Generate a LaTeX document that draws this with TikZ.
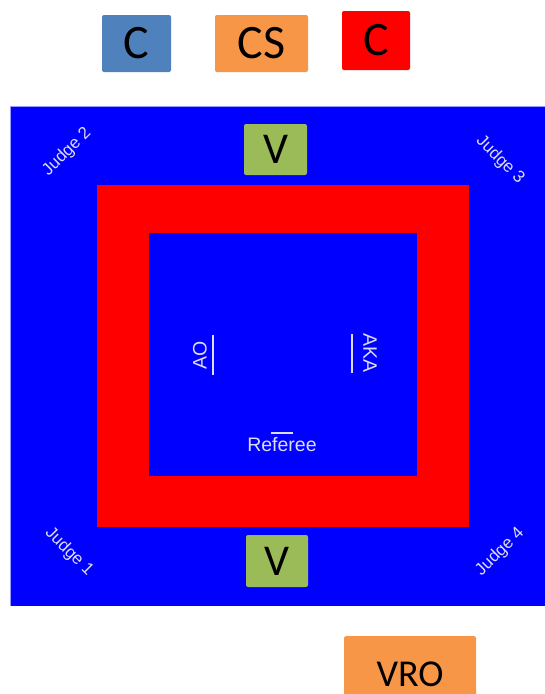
\documentclass[tikz,border=0pt]{standalone}
\usepackage{fontspec}
\setmainfont{Liberation Sans}
\newfontfamily\boxfont{Carlito}
\definecolor{pblue}{HTML}{4F81BD}
\definecolor{porange}{HTML}{F79646}
\definecolor{pgreen}{HTML}{9BBB59}
\definecolor{mat}{HTML}{0000FF}
\definecolor{lbl}{HTML}{DCDCF6}
\newcommand{\lowtext}[2]{\raisebox{-#1}{#2}}
\tikzset{
  tagbox/.style={rounded corners=2pt, inner sep=0pt, text=black},
  big/.style={font=\boxfont\fontsize{48}{48}\selectfont},
  mid/.style={font=\boxfont\fontsize{44}{44}\selectfont},
  vro/.style={font=\boxfont\fontsize{38}{38}\selectfont},
  small/.style={text=lbl, font=\fontsize{17}{17}\selectfont, inner sep=0pt},
  smallb/.style={text=lbl, font=\fontsize{19.5}{19.5}\selectfont, inner sep=0pt},
  mark line/.style={draw=lbl, line width=1.6pt}
}
\begin{document}
\begin{tikzpicture}[x=1pt,y=-1pt]
\useasboundingbox (0,0) rectangle (545,694);
\fill[white] (0,0) rectangle (545,694);
% mat
\fill[mat] (10,106) rectangle (545,606);
\draw[mat!40!white, line width=0.6pt] (10,606) -- (10,106) -- (545,106);
\fill[red] (97,185) rectangle (469,527);
\fill[mat] (149,233) rectangle (417,476);
% top tags
\node[tagbox, big, fill=pblue, minimum width=69pt, minimum height=57pt] (c1) at (136.5,43.5) {\lowtext{6pt}{C}};
\node[tagbox, big, fill=porange, minimum width=93pt, minimum height=57pt] (cs) at (261.5,43.5) {\lowtext{6pt}{CS}};
\node[tagbox, big, fill=red, minimum width=68pt, minimum height=59pt] (c2) at (376,40.5) {\lowtext{6pt}{C}};
% V boxes
\node[tagbox, mid, fill=pgreen, minimum width=63pt, minimum height=51pt] (vtop) at (275.5,149.5) {\lowtext{4pt}{V}};
\node[tagbox, mid, fill=pgreen, minimum width=62pt, minimum height=52pt] (vbot) at (277,561) {\lowtext{4pt}{V}};
% VRO
\node[tagbox, vro, fill=porange, minimum width=132pt, minimum height=76pt, anchor=north] (vro) at (410,636) {VRO};
% judges
\node[small, rotate=45] (j2) at (67,152) {Judge 2};
\node[small, rotate=-45] (j3) at (500,160) {Judge 3};
\node[small, rotate=-45] (j1) at (69,552) {Judge 1};
\node[small, rotate=45] (j4) at (500,552) {Judge 4};
% positions
\node[smallb, rotate=90] (ao) at (200,355) {AO};
\coordinate (aoa) at (213,335);
\coordinate (aob) at (213,375);
\draw[mark line] (aoa) -- (aob);
\node[smallb, rotate=-90] (aka) at (370,353) {AKA};
\coordinate (akaa) at (352,334);
\coordinate (akab) at (352,373);
\draw[mark line] (akaa) -- (akab);
\node[smallb] (ref) at (282,445) {Referee};
\coordinate (refa) at (271,433);
\coordinate (refb) at (293,433);
\draw[mark line] (refa) -- (refb);
\end{tikzpicture}
\end{document}
